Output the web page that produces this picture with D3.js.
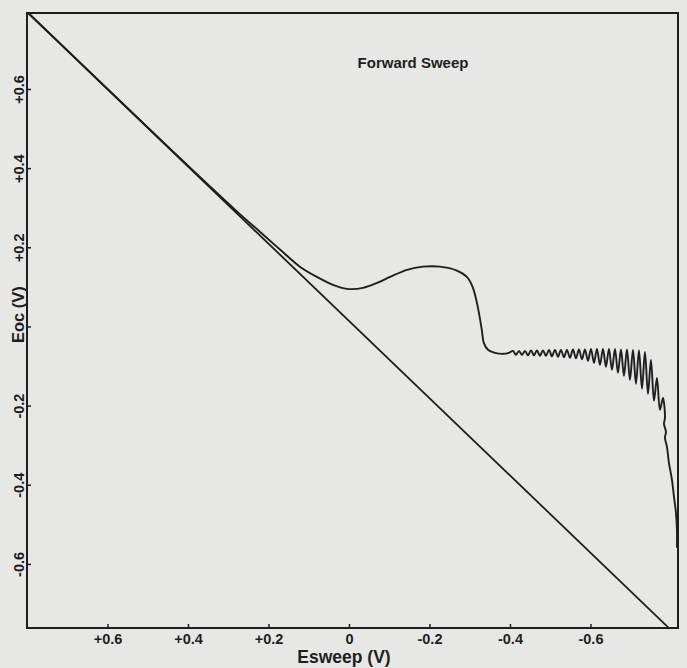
<!DOCTYPE html>
<html>
<head>
<meta charset="utf-8">
<script src="https://cdn.jsdelivr.net/npm/d3@7"></script>
<style>
  html, body { margin: 0; padding: 0; background: #e7e7e5; }
  svg { display: block; }
  text { font-family: "Liberation Sans", Arial, Helvetica, sans-serif; font-weight: bold; fill: #1e1e1e; }
</style>
</head>
<body>
<svg id="chart" width="687" height="668"></svg>
<script>
// Open-circuit potential recorded during the forward potential sweep
const sweepV = [
  0.797, 0.600, 0.450, 0.350, 0.280, 0.220, 0.170, 0.122, 0.0795, 0.0398, 0.005,
  -0.0348, -0.0696, -0.102, -0.144, -0.184, -0.226, -0.268, -0.293, -0.308, -0.320,
  -0.330, -0.335, -0.3453, -0.3627, -0.3826, -0.3975,
  -0.4075, -0.4149, -0.4224, -0.4298, -0.4373, -0.4447, -0.4522, -0.4596, -0.4671, -0.4745,
  -0.4820, -0.4894, -0.4969, -0.5043, -0.5118, -0.5193, -0.5267, -0.5342, -0.5416, -0.5491,
  -0.5565, -0.5640, -0.5714, -0.5789, -0.5863, -0.5938, -0.6012, -0.6087, -0.6161, -0.6236,
  -0.6311, -0.6385, -0.6460, -0.6534, -0.6609, -0.6683, -0.6758, -0.6832, -0.6907, -0.6981,
  -0.7056, -0.7130, -0.7205, -0.7280, -0.7354, -0.7429, -0.7503, -0.7578, -0.7652, -0.7727,
  -0.7801,
  -0.7851, -0.7826, -0.7876, -0.7851, -0.7901, -0.7950, -0.8025, -0.8075, -0.8124, -0.8149, -0.8149
];
const eocV = [
  0.792, 0.600, 0.454, 0.358, 0.292, 0.238, 0.193, 0.151, 0.125, 0.105, 0.095,
  0.0975, 0.110, 0.125, 0.143, 0.151, 0.151, 0.141, 0.125, 0.0975, 0.0495,
  -0.0085, -0.0415, -0.0591, -0.0667, -0.0692, -0.0667,
  -0.0617, -0.0718, -0.0617, -0.0718, -0.0617, -0.0730, -0.0604, -0.0730, -0.0604, -0.0743,
  -0.0604, -0.0743, -0.0591, -0.0756, -0.0591, -0.0768, -0.0591, -0.0781, -0.0591, -0.0794,
  -0.0579, -0.0806, -0.0579, -0.0831, -0.0579, -0.0869, -0.0566, -0.0920, -0.0566, -0.0971,
  -0.0566, -0.1021, -0.0566, -0.1097, -0.0566, -0.1173, -0.0579, -0.1249, -0.0579, -0.1350,
  -0.0591, -0.1451, -0.0604, -0.1577, -0.0642, -0.1703, -0.0844, -0.1880, -0.1299, -0.2108,
  -0.1804,
  -0.2310, -0.2461, -0.2664, -0.2815, -0.3043, -0.3447, -0.3877, -0.4306, -0.4711, -0.5140, -0.5595
];

// Reference line Eoc = Esweep
const refSweep = [0.797, -0.797];
const refEoc = [0.792, -0.764];

const xTicks = [0.6, 0.4, 0.2, 0, -0.2, -0.4, -0.6];
const yTicks = [0.6, 0.4, 0.2, 0, -0.2, -0.4, -0.6];

const plotTitle = "Forward Sweep";
const xTitle = "Esweep (V)";
const yTitle = "Eoc (V)";

const fmt = d => d > 0 ? "+" + d.toFixed(1) : (d < 0 ? d.toFixed(1) : "0");
// the vertical axis leaves its zero unlabelled; the axis title sits there
const fmtY = d => d === 0 ? "" : fmt(d);

const svg = d3.select("#chart");
const box = { left: 27, top: 13, right: 678, bottom: 628 };

const x = d3.scaleLinear().domain([0.8, -0.8175]).range([box.left, box.right]);
const y = d3.scaleLinear().domain([0.792, -0.762]).range([box.top, box.bottom]);

const ink = "#1e1e1e";

// frame
svg.append("rect")
  .attr("x", box.left).attr("y", box.top)
  .attr("width", box.right - box.left).attr("height", box.bottom - box.top)
  .attr("fill", "none").attr("stroke", ink).attr("stroke-width", 2);

const line = d3.line().x(d => x(d[0])).y(d => y(d[1]));

svg.append("path")
  .datum(refSweep.map((v, i) => [v, refEoc[i]]))
  .attr("d", line)
  .attr("fill", "none").attr("stroke", ink).attr("stroke-width", 1.8);

svg.append("path")
  .datum(sweepV.map((v, i) => [v, eocV[i]]))
  .attr("d", line.curve(d3.curveCatmullRom.alpha(0.5)))
  .attr("fill", "none").attr("stroke", ink).attr("stroke-width", 1.9)
  .attr("stroke-linejoin", "round");

// axes
const xAxis = d3.axisBottom(x).tickValues(xTicks).tickFormat(fmt)
  .tickSizeInner(-4).tickSizeOuter(0).tickPadding(6);
const gx = svg.append("g").attr("transform", `translate(0,${box.bottom})`).call(xAxis);
gx.select(".domain").remove();
gx.selectAll(".tick line").attr("stroke", ink).attr("stroke-width", 1.5);
gx.selectAll(".tick text").attr("font-size", 14.5).attr("fill", ink)
  .style("font-family", "'Liberation Sans', Arial, sans-serif").style("font-weight", "bold");

const yAxis = d3.axisLeft(y).tickValues(yTicks).tickFormat(fmtY)
  .tickSizeInner(-4).tickSizeOuter(0);
const gy = svg.append("g").attr("transform", `translate(${box.left},0)`).call(yAxis);
gy.select(".domain").remove();
gy.selectAll(".tick line").attr("stroke", ink).attr("stroke-width", 1.5);
gy.selectAll(".tick text")
  .attr("x", null).attr("dy", null)
  .attr("text-anchor", "middle")
  .attr("transform", "translate(-3,0) rotate(-90)")
  .attr("font-size", 14.5).attr("fill", ink)
  .style("font-family", "'Liberation Sans', Arial, sans-serif").style("font-weight", "bold");

// titles
svg.append("text")
  .attr("x", 413).attr("y", 68)
  .attr("text-anchor", "middle").attr("font-size", 15)
  .text(plotTitle);

svg.append("text")
  .attr("x", 344).attr("y", 663)
  .attr("text-anchor", "middle").attr("font-size", 17.5)
  .text(xTitle);

svg.append("text")
  .attr("transform", `translate(24,${y(0.03)}) rotate(-90)`)
  .attr("text-anchor", "middle").attr("font-size", 16.5)
  .text(yTitle);
</script>
</body>
</html>
